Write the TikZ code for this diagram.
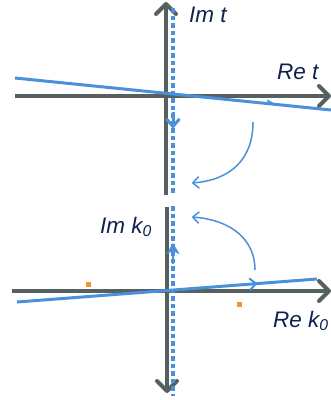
\documentclass[tikz,border=0pt]{standalone}
\usepackage{fontspec}
\setmainfont{Liberation Sans}
\usetikzlibrary{arrows.meta,decorations.markings,calc}
\definecolor{axisgray}{HTML}{56605F}
\definecolor{lineblue}{HTML}{4A90DA}
\definecolor{labelnavy}{HTML}{10204F}
\definecolor{poleorange}{HTML}{F0962E}
\tikzset{
  axis/.style={draw=axisgray, line width=4pt, line cap=butt, -{Straight Barb[length=10pt,width=20pt,round]}},
  contour/.style={draw=lineblue, line width=3pt},
  dashcontour/.style={draw=lineblue, line width=4pt, dash pattern=on 4.5pt off 3pt},
  rotarrow/.style={draw=lineblue, line width=1.5pt, -{Straight Barb[length=6pt,width=11pt,round]}},
  lab/.style={text=labelnavy, font=\fontsize{22.5}{26}\selectfont\itshape, inner sep=0pt},
  pole/.style={fill=poleorange, draw=none, minimum size=5pt, inner sep=0pt}
}
\begin{document}
\begin{tikzpicture}[x=1pt,y=-1pt]
\useasboundingbox (0,0) rectangle (331,400);
% ---------- top panel ----------
\coordinate (tvT) at (166,2);
\coordinate (tvB) at (166,195);
\coordinate (thL) at (15,96);
\coordinate (thR) at (331,96);
\coordinate (tdT) at (173,8);
\coordinate (tdB) at (173,195);
\coordinate (tcL) at (15,78);
\coordinate (tcR) at (331,110);
\draw[axis] (tvB) -- (tvT);
\draw[axis] (thL) -- (thR);
\draw[dashcontour] (tdT) -- (tdB);
\draw[draw=lineblue, line width=3pt, -{Straight Barb[length=7pt,width=12pt,round]}] (173,112) -- (173,128);
\draw[contour] (tcL) -- (tcR);
\coordinate (tbar) at ($(tcL)!0.82!(tcR)$);
\draw[draw=lineblue, line width=1.5pt] (tbar) -- ++(-7,-4);
\node[lab, anchor=base west] (imt) at (189,22) {Im t};
\node[lab, anchor=base west] (ret) at (277,79) {Re t};
\coordinate (trS) at (253,122);
\coordinate (trE) at (192,183);
\draw[rotarrow] (trS) .. controls (253,160) and (230,180) .. (trE);
% ---------- bottom panel ----------
\coordinate (bvT) at (167,207);
\coordinate (bvB) at (167,393);
\coordinate (bhL) at (12,291);
\coordinate (bhR) at (331,291);
\coordinate (bdT) at (173,206);
\coordinate (bdB) at (173,396);
\coordinate (bcL) at (17,302);
\coordinate (bcR) at (317,279);
\draw[axis] (bvT) -- (bvB);
\draw[axis] (bhL) -- (bhR);
\draw[dashcontour] (bdT) -- (bdB);
\draw[draw=lineblue, line width=2.5pt, -{Stealth[length=11pt,width=13pt,inset=3pt]}] (173,264) -- (173,243);
\draw[contour, postaction={decorate}, decoration={markings, mark=at position 0.8 with {\arrow[line width=2pt]{Straight Barb[length=6pt,width=11pt,round]}}}] (bcL) -- (bcR);
\node[lab, anchor=base west] (imk) at (100,233) {Im k\textsubscript{0}};
\node[lab, anchor=base west] (rek) at (273,327) {Re k\textsubscript{0}};
\coordinate (brS) at (255,270);
\coordinate (brE) at (192,217);
\draw[rotarrow] (brS) .. controls (255,240) and (232,220) .. (brE);
\node[pole] (p1) at (88,284) {};
\node[pole] (p2) at (239,304) {};
\end{tikzpicture}
\end{document}
